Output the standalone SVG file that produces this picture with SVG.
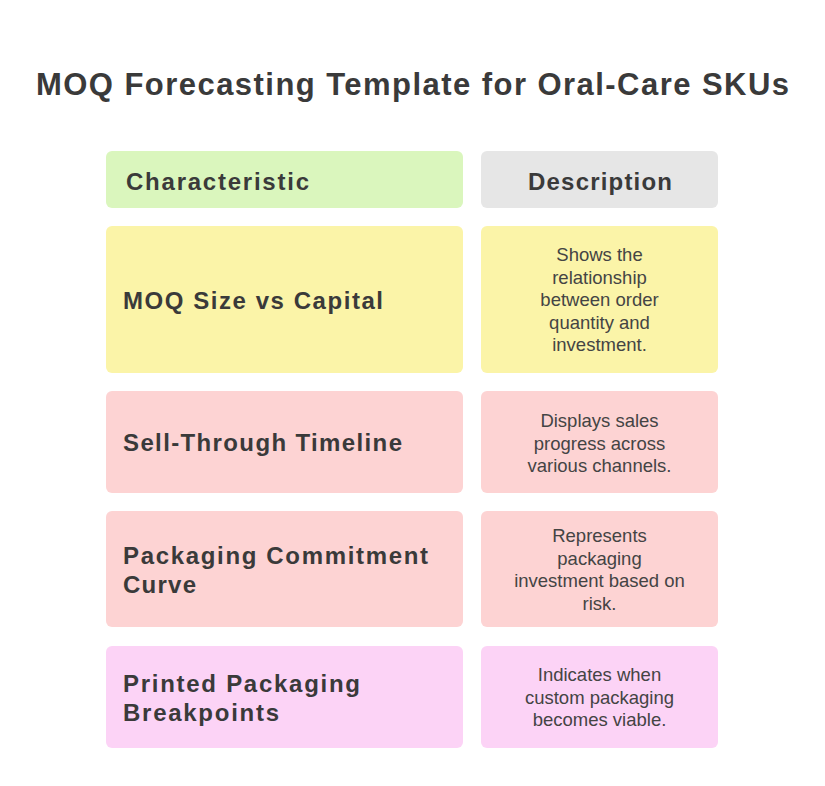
<svg xmlns="http://www.w3.org/2000/svg" width="825" height="786" viewBox="0 0 825 786">
<style>
.title{font-family:"Liberation Sans",Arial,sans-serif;font-weight:700;font-size:31px;fill:#3a3a3a;}
.lbl{font-family:"Liberation Sans",Arial,sans-serif;font-weight:700;font-size:24px;fill:#3a3a3a;}
.desc{font-family:"Liberation Sans",Arial,sans-serif;font-size:18.5px;fill:#444444;text-anchor:middle;}
.box{stroke:none;}
.g{fill:#daf6bd;}
.gr{fill:#e6e6e6;}
.y{fill:#fbf4a8;}
.p{fill:#fdd3d3;}
.m{fill:#fcd3f6;}
</style>
<rect width="825" height="786" fill="#ffffff"/>
<text class="title" x="36" y="95" textLength="753" lengthAdjust="spacing">MOQ Forecasting Template for Oral-Care SKUs</text>

<g id="header-characteristic">
<rect class="box g" x="106" y="151" width="357" height="57" rx="6"/>
<text class="lbl" x="126" y="190" textLength="183" lengthAdjust="spacing">Characteristic</text>
</g>
<g id="header-description">
<rect class="box gr" x="481" y="151" width="237" height="57" rx="6"/>
<text class="lbl" x="600" y="190" text-anchor="middle" textLength="144" lengthAdjust="spacing">Description</text>
</g>

<g id="row1-characteristic">
<rect class="box y" x="106" y="226" width="357" height="147" rx="6"/>
<text class="lbl" x="123" y="309" textLength="260" lengthAdjust="spacing">MOQ Size vs Capital</text>
</g>
<g id="row1-description">
<rect class="box y" x="481" y="226" width="237" height="147" rx="6"/>
<text class="desc" x="599.5" y="261">Shows the</text>
<text class="desc" x="599.5" y="283.5">relationship</text>
<text class="desc" x="599.5" y="306">between order</text>
<text class="desc" x="599.5" y="328.5">quantity and</text>
<text class="desc" x="599.5" y="351">investment.</text>
</g>

<g id="row2-characteristic">
<rect class="box p" x="106" y="391" width="357" height="102" rx="6"/>
<text class="lbl" x="123" y="451" textLength="279" lengthAdjust="spacing">Sell-Through Timeline</text>
</g>
<g id="row2-description">
<rect class="box p" x="481" y="391" width="237" height="102" rx="6"/>
<text class="desc" x="599.5" y="427">Displays sales</text>
<text class="desc" x="599.5" y="449.5">progress across</text>
<text class="desc" x="599.5" y="472">various channels.</text>
</g>

<g id="row3-characteristic">
<rect class="box p" x="106" y="511" width="357" height="116" rx="6"/>
<text class="lbl" x="123" y="564" textLength="305" lengthAdjust="spacing">Packaging Commitment</text>
<text class="lbl" x="123" y="593" textLength="73" lengthAdjust="spacing">Curve</text>
</g>
<g id="row3-description">
<rect class="box p" x="481" y="511" width="237" height="116" rx="6"/>
<text class="desc" x="599.5" y="542">Represents</text>
<text class="desc" x="599.5" y="564.5">packaging</text>
<text class="desc" x="599.5" y="587">investment based on</text>
<text class="desc" x="599.5" y="609.5">risk.</text>
</g>

<g id="row4-characteristic">
<rect class="box m" x="106" y="646" width="357" height="102" rx="6"/>
<text class="lbl" x="123" y="692" textLength="237" lengthAdjust="spacing">Printed Packaging</text>
<text class="lbl" x="123" y="721" textLength="156" lengthAdjust="spacing">Breakpoints</text>
</g>
<g id="row4-description">
<rect class="box m" x="481" y="646" width="237" height="102" rx="6"/>
<text class="desc" x="599.5" y="681">Indicates when</text>
<text class="desc" x="599.5" y="703.5">custom packaging</text>
<text class="desc" x="599.5" y="726">becomes viable.</text>
</g>

<g id="connectors"></g>
</svg>
